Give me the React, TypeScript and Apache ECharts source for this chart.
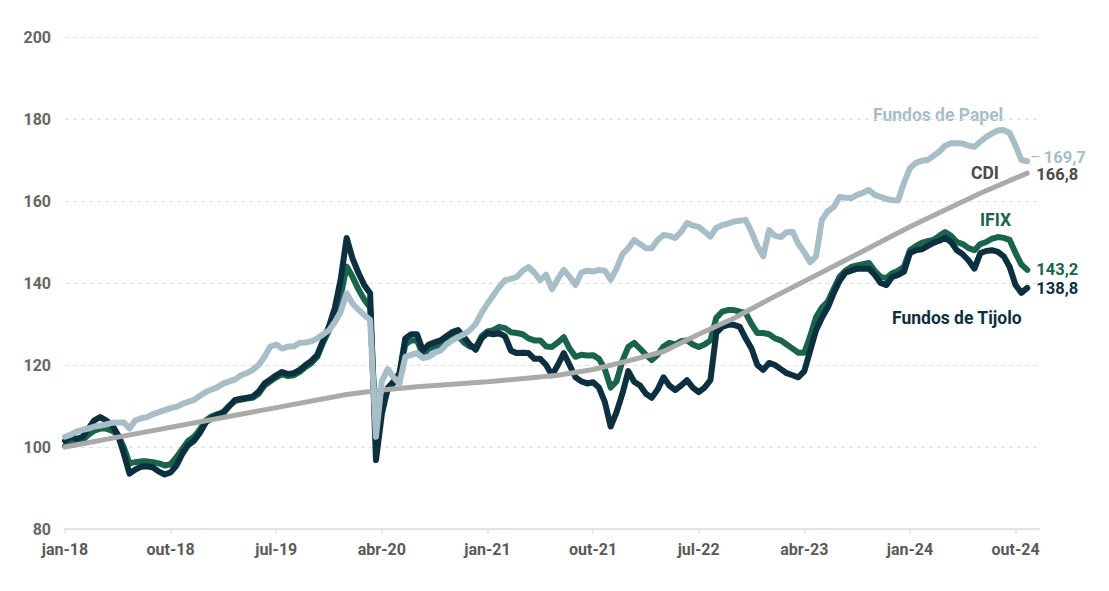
import { useEffect, useRef } from "react";
import * as echarts from "echarts";

// x positions: months since jan-18, half-month steps (0 .. 82)
const months: number[] = Array.from({ length: 165 }, (_, i) => i / 2);

const tickMonths = [0, 9, 18, 27, 36, 45, 54, 63, 72, 81];
const tickLabels = ["jan-18", "out-18", "jul-19", "abr-20", "jan-21", "out-21", "jul-22", "abr-23", "jan-24", "out-24"];

const tijolo = [
  101.5, 102.5, 102, 102.5, 104.5, 106.5, 107.3, 106.5, 105.5, 103,
  98.5, 93.5, 94.5, 95.2, 95.3, 95, 94, 93.3, 93.8, 95.5,
  98.3, 100.5, 101.5, 103.5, 106, 107, 107.8, 108.3, 110, 111.5,
  111.8, 112, 112.3, 113.5, 115.5, 116.5, 117.5, 118.3, 117.8, 118,
  118.8, 120, 121, 122.5, 126, 129.5, 134, 141, 151, 146,
  142.5, 139.5, 137.5, 96.8, 108, 114.4, 116, 118, 126.5, 127.5,
  127.5, 123.5, 125, 125.5, 126, 127, 128, 128.5, 126.8, 125,
  123.7, 126.5, 127.8, 127.5, 127.8, 127, 123.5, 122.9, 123, 122.9,
  121.5, 121.5, 120, 117.5, 120, 122.9, 120, 117, 116, 115.5,
  115.8, 114.5, 111, 105, 108.5, 113, 118.5, 115.9, 115, 113,
  112, 114, 117, 115, 113.9, 115, 116.3, 114.5, 113.4, 114.5,
  116.3, 127.8, 129.3, 129.8, 129.8, 129.3, 126.5, 124, 120, 118.8,
  120.5, 120, 119, 118, 117.5, 117, 118.5, 123.5, 128.5, 131.5,
  134, 137.5, 140.5, 142.5, 143, 143.5, 143.5, 143.5, 142, 140,
  139.5, 141.5, 142, 142.8, 147.3, 148, 148.2, 149, 149.8, 150.3,
  151, 150, 148, 147, 145.5, 143.5, 147.3, 147.8, 148, 147.6,
  146.5, 143.9, 139.5, 137.6, 138.8,
];

const ifix = [
  100.2, 101, 101.2, 101.7, 103, 104, 104.5, 104.5, 104, 103,
  100, 96, 96.3, 96.5, 96.5, 96.3, 96, 95.5, 95.8, 97.5,
  99.5, 101.5, 102.5, 104.3, 106.5, 107.5, 108, 108.6, 110, 111.3,
  111.5, 111.8, 112, 113, 115, 116, 117, 117.8, 117.3, 117.5,
  118.3, 119.5, 120.5, 122, 125.5, 128.5, 132, 137, 144, 141.5,
  138.5, 136, 134, 103, 109, 114, 115.5, 117.5, 125, 126,
  126, 122.5, 124, 124.5, 125, 125.8, 126.8, 127, 125.5, 124.5,
  124.3, 127, 128.2, 128.5, 129.3, 129, 128, 127.8, 127.5, 126.5,
  126, 126, 124.5, 124.4, 125.5, 126.8, 124, 122, 122.5, 122.3,
  122.4, 121.5, 119, 114.5, 116, 121, 124.4, 125.4, 124, 122.5,
  121.2, 122.5, 124.5, 125.4, 125, 125.8, 126, 125, 124.4, 125,
  126, 131.5, 133, 133.4, 133.4, 133, 132.7, 130, 127.8, 127.8,
  127.5, 126.5, 126, 125, 124, 123, 123, 127, 131.7, 134,
  135.5, 138.5, 141.5, 143, 143.9, 144.3, 144.6, 144.9, 143, 141.5,
  141.2, 142.4, 143, 144, 148, 149, 149.8, 150.2, 150.5, 151.5,
  152.4, 151.5, 150, 149.5, 148.5, 148, 149.5, 150, 150.8, 151.2,
  151, 150.5, 147.3, 144.5, 143.2,
];

const papel = [
  102.5, 103, 103.8, 104.2, 104.5, 105, 105.2, 105.5, 105.9, 106,
  106, 104.5, 106.5, 107, 107.3, 108, 108.5, 109, 109.5, 109.8,
  110.5, 111, 111.5, 112.5, 113.4, 114, 114.6, 115.5, 116, 116.5,
  117.5, 118, 118.8, 120, 122, 124.5, 125, 124, 124.5, 124.5,
  125.4, 125.5, 125.8, 126.5, 127.5, 128.5, 130.5, 133, 137.5, 135,
  133.5, 132.2, 131, 102.5, 116, 119, 117, 115.5, 122, 122.5,
  122.9, 121.7, 122, 123, 123.5, 125, 126, 126.8, 127.5, 128.5,
  130, 132.7, 135, 137, 139, 140.7, 141, 141.5, 143, 143.9,
  142.5, 140.7, 142, 138.5, 141, 143.2, 141.5, 139.5, 142.5, 143,
  142.8, 143.2, 143, 140.8, 143.5, 147, 148.5, 150.5, 149.5, 148.5,
  148.5, 150.5, 151.7, 151.5, 151, 152.5, 154.6, 154, 153.7, 152.5,
  151.3, 153.5, 154.1, 154.5, 155, 155.2, 155.4, 152.5, 149, 146.5,
  152.9, 151.5, 151.2, 152.4, 152.5, 149.5, 147.5, 145.1, 146.5, 155.4,
  157.5, 158.5, 161, 160.8, 160.7, 161.5, 162, 162.7, 161.5, 161,
  160.5, 160.2, 160.2, 164.5, 168, 169.3, 169.8, 170, 171, 172,
  173.5, 174.1, 174.1, 174, 173.5, 173.2, 174.5, 175.6, 176.5, 177.2,
  177.3, 176.6, 173.5, 170, 169.7,
];

const cdiMonths = [0, 6, 12, 18, 24, 27, 30, 36, 42, 45, 48, 51, 54, 57, 60, 66, 72, 78, 82];
const cdiValues = [100, 103.2, 106.4, 109.6, 112.8, 113.9, 114.7, 115.9, 117.5, 118.9, 121, 123.3, 127.5, 131.4, 136, 144.8, 153.7, 161.9, 166.8];

const FONT = "Roboto";
const C_PAPEL = "#a7bec8";
const C_TIJOLO = "#0c3040";
const C_IFIX = "#1a644d";
const C_CDI = "#aaaaaa";
const C_CDI_TXT = "#4a4a4a";

const fmt = (v: number) => v.toFixed(1).replace(".", ",");
const pairs = (vals: number[]) => vals.map((v, i) => [months[i], v]);

function endLabel(color: string, rich = false) {
  return {
    show: true,
    distance: 9,
    color,
    fontFamily: FONT,
    fontWeight: "bold" as const,
    fontSize: 16.5,
    lineHeight: 15,
    formatter: (p: any) => (rich ? "{d|–}" + fmt(p.value[1]) : fmt(p.value[1])),
    rich: rich
      ? { d: { color, fontFamily: FONT, fontSize: 16, lineHeight: 15, fontWeight: "normal", padding: [0, 3, 0, 0] } }
      : undefined,
  };
}

function lineSeries(name: string, data: number[][], color: string, width: number, label: any) {
  return {
    name,
    type: "line",
    data,
    showSymbol: false,
    symbol: "none",
    lineStyle: { color, width, cap: "round", join: "round" },
    itemStyle: { color },
    endLabel: label,
    emphasis: { disabled: true },
    z: 2,
  };
}

export default function App() {
  const ref = useRef<HTMLDivElement>(null);
  useEffect(() => {
    const chart = echarts.init(ref.current!, null, { renderer: "svg" });
    chart.setOption({
      animation: false,
      backgroundColor: "#ffffff",
      textStyle: { fontFamily: FONT },
      grid: { left: 65, right: 70, top: 37, bottom: 62, containLabel: false },
      xAxis: {
        type: "value",
        min: 0,
        max: 83,
        axisLine: { show: true, onZero: false, lineStyle: { color: "#e4e4e4", width: 2 } },
        axisTick: { show: true, customValues: tickMonths, length: 5, lineStyle: { color: "#e4e4e4", width: 1.5 } },
        axisLabel: {
          customValues: tickMonths,
          formatter: (v: number) => {
            const i = tickMonths.indexOf(v);
            return i >= 0 ? tickLabels[i] : "";
          },
          color: "#5a5a5a",
          fontFamily: FONT,
          fontWeight: "bold",
          fontSize: 16,
          margin: 12,
        },
        splitLine: { show: false },
      },
      yAxis: {
        type: "value",
        min: 80,
        max: 200,
        interval: 20,
        axisLine: { show: false },
        axisTick: { show: false },
        axisLabel: { color: "#666666", fontFamily: FONT, fontWeight: "bold", fontSize: 16, margin: 14 },
        splitLine: { show: true, lineStyle: { color: "#dedede", type: [4, 4], width: 1 } },
      },
      series: [
        lineSeries("IFIX", pairs(ifix), C_IFIX, 6, { ...endLabel(C_IFIX), offset: [0, 0] }),
        lineSeries("Fundos de Tijolo", pairs(tijolo), C_TIJOLO, 6, { ...endLabel(C_TIJOLO), offset: [0, 1] }),
        lineSeries("CDI", cdiMonths.map((m, i) => [m, cdiValues[i]]), C_CDI, 5, { ...endLabel(C_CDI_TXT), offset: [0, 1] }),
        lineSeries("Fundos de Papel", pairs(papel), C_PAPEL, 6, { ...endLabel(C_PAPEL, true), distance: 3, offset: [0, -4] }),
      ],
      graphic: [
        { type: "text", left: 873, top: 106, style: { text: "Fundos de Papel", fill: C_PAPEL, font: `bold 17.5px ${FONT}` } },
        { type: "text", left: 971, top: 164, style: { text: "CDI", fill: C_CDI_TXT, font: `bold 17.5px ${FONT}` } },
        { type: "text", left: 980, top: 211, style: { text: "IFIX", fill: C_IFIX, font: `bold 17.5px ${FONT}` } },
        { type: "text", left: 892, top: 309, style: { text: "Fundos de Tijolo", fill: C_TIJOLO, font: `bold 17.5px ${FONT}` } },
      ],
    });
    return () => chart.dispose();
  }, []);
  return (
    <div
      ref={ref}
      style={{ position: "fixed", left: 0, top: 0, width: 1109, height: 591, background: "#fff" }}
    />
  );
}
